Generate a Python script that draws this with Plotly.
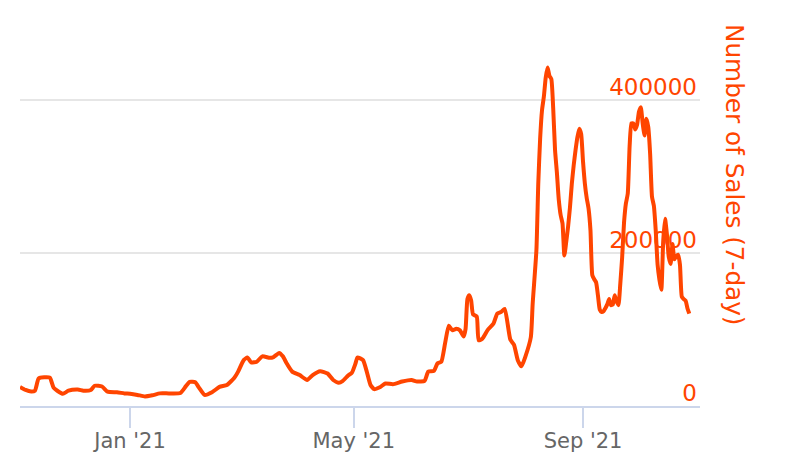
import plotly.graph_objects as go

dates = [
    "2020-11-03", "2020-11-06", "2020-11-09", "2020-11-11", "2020-11-13", "2020-11-16",
    "2020-11-19", "2020-11-21", "2020-11-23", "2020-11-26", "2020-11-29", "2020-12-04",
    "2020-12-07", "2020-12-11", "2020-12-13", "2020-12-17", "2020-12-20", "2020-12-25",
    "2020-12-29", "2021-01-01", "2021-01-05", "2021-01-09", "2021-01-13", "2021-01-17",
    "2021-01-22", "2021-01-28", "2021-01-31", "2021-02-02", "2021-02-05", "2021-02-07",
    "2021-02-10", "2021-02-14", "2021-02-18", "2021-02-22", "2021-02-26", "2021-02-28",
    "2021-03-03", "2021-03-05", "2021-03-07", "2021-03-10", "2021-03-13", "2021-03-17",
    "2021-03-19", "2021-03-22", "2021-03-24", "2021-03-26", "2021-03-29", "2021-04-02",
    "2021-04-06", "2021-04-09", "2021-04-13", "2021-04-17", "2021-04-20", "2021-04-23",
    "2021-04-25", "2021-04-28", "2021-04-30", "2021-05-02", "2021-05-03", "2021-05-06",
    "2021-05-08", "2021-05-10", "2021-05-12", "2021-05-15", "2021-05-18", "2021-05-22",
    "2021-05-27", "2021-06-01", "2021-06-04", "2021-06-08", "2021-06-10", "2021-06-13",
    "2021-06-15", "2021-06-17", "2021-06-19", "2021-06-21", "2021-06-23", "2021-06-25",
    "2021-06-27", "2021-06-29", "2021-06-30", "2021-07-01", "2021-07-02", "2021-07-03",
    "2021-07-04", "2021-07-06", "2021-07-07", "2021-07-09", "2021-07-12", "2021-07-15",
    "2021-07-17", "2021-07-19", "2021-07-21", "2021-07-24", "2021-07-26", "2021-07-28",
    "2021-07-30", "2021-08-01", "2021-08-04", "2021-08-05", "2021-08-07", "2021-08-08",
    "2021-08-09", "2021-08-10", "2021-08-11", "2021-08-12", "2021-08-13", "2021-08-14",
    "2021-08-15", "2021-08-16", "2021-08-17", "2021-08-18", "2021-08-19", "2021-08-20",
    "2021-08-21", "2021-08-22", "2021-08-23", "2021-08-24", "2021-08-25", "2021-08-26",
    "2021-08-27", "2021-08-28", "2021-08-29", "2021-08-30", "2021-08-31", "2021-09-01",
    "2021-09-02", "2021-09-03", "2021-09-04", "2021-09-05", "2021-09-06", "2021-09-07",
    "2021-09-08", "2021-09-09", "2021-09-10", "2021-09-11", "2021-09-12", "2021-09-13",
    "2021-09-14", "2021-09-15", "2021-09-16", "2021-09-17", "2021-09-18", "2021-09-19",
    "2021-09-20", "2021-09-21", "2021-09-22", "2021-09-23", "2021-09-24", "2021-09-25",
    "2021-09-26", "2021-09-27", "2021-09-28", "2021-09-29", "2021-09-30", "2021-10-01",
    "2021-10-02", "2021-10-03", "2021-10-04", "2021-10-05", "2021-10-06", "2021-10-07",
    "2021-10-08", "2021-10-09", "2021-10-10", "2021-10-11", "2021-10-12", "2021-10-13",
    "2021-10-14", "2021-10-15", "2021-10-16", "2021-10-17", "2021-10-18", "2021-10-19",
    "2021-10-20", "2021-10-21", "2021-10-22", "2021-10-23", "2021-10-24", "2021-10-25",
    "2021-10-26", "2021-10-27", "2021-10-28",
]

sales_7day = [
    25000, 21000, 19000, 20000, 36000, 37500,
    37000, 24000, 20000, 16000, 20000, 21500,
    20000, 21000, 26500, 25500, 18700, 18000,
    16500, 16000, 14500, 12500, 14000, 16500,
    16500, 17000, 26000, 31500, 31000, 24000,
    14500, 18000, 25000, 27500, 37000, 45000,
    60000, 63500, 57000, 58000, 65000, 63000,
    64000, 69500, 65000, 56000, 45000, 40500,
    34000, 40500, 45500, 42500, 34000, 30500,
    32500, 40000, 43500, 56000, 63500, 60000,
    45000, 27500, 22000, 24500, 29500, 28500,
    32000, 34000, 32000, 33000, 45000, 46000,
    56000, 58000, 82000, 105000, 99000, 101000,
    99000, 91000, 101000, 140000, 145000, 138000,
    120000, 117000, 86000, 88000, 100000, 108000,
    121000, 123000, 127000, 87000, 80000, 60000,
    52000, 64000, 90000, 134000, 204000, 291000,
    350000, 387000, 405000, 430000, 443000, 432000,
    428000, 390000, 335000, 305000, 270000, 250000,
    239000, 197000, 215000, 235000, 260000, 291000,
    315000, 335000, 352000, 363000, 356000, 320000,
    291000, 272000, 258000, 230000, 171000, 166000,
    162000, 145000, 126000, 123000, 124000, 128000,
    133000, 140000, 132000, 133000, 145000, 137000,
    132000, 160000, 195000, 240000, 265000, 278000,
    340000, 370000, 370000, 362000, 368000, 385000,
    391000, 370000, 354000, 376000, 365000, 330000,
    274000, 262000, 230000, 185000, 165000, 152000,
    215000, 245000, 225000, 195000, 186000, 212000,
    192000, 196000, 198000, 185000, 143000, 140000,
    138000, 128000, 121000,
]

x_tick_dates = ["2021-01-01", "2021-05-01", "2021-09-01"]
x_tick_labels = ["Jan '21", "May '21", "Sep '21"]
y_tick_vals = [0, 200000, 400000]
y_title = "Number of Sales (7-day)"

ORANGE = "#ff4500"
FONT = "DejaVu Sans"

fig = go.Figure()
fig.add_trace(go.Scatter(
    x=dates, y=sales_7day, mode="lines",
    line=dict(color=ORANGE, width=4, shape="spline", smoothing=0.5),
    hoverinfo="skip", showlegend=False,
))

fig.update_layout(
    width=786, height=467,
    margin=dict(l=20, r=86, t=24, b=61, autoexpand=False),
    paper_bgcolor="white", plot_bgcolor="white",
    font=dict(family=FONT),
    showlegend=False,
)

fig.update_xaxes(
    range=["2020-11-03", "2021-11-02 18:00"],
    tickvals=x_tick_dates, ticktext=x_tick_labels,
    showgrid=False, zeroline=False, automargin=False,
    showline=True, linecolor="#ccd6eb", linewidth=2,
    ticks="outside", ticklen=20, tickwidth=2, tickcolor="#ccd6eb",
    ticklabelstandoff=-5,
    tickfont=dict(family=FONT, size=21, color="#666666"),
)

fig.update_yaxes(
    side="right", range=[0, 500000], automargin=False,
    tickvals=y_tick_vals, tickformat="d",
    ticklabelposition="inside top", ticklabelstandoff=0, ticklabelshift=3,
    showgrid=True, gridcolor="#e6e6e6", gridwidth=2,
    zeroline=False, showline=False, ticks="",
    tickfont=dict(family=FONT, size=23, color=ORANGE),
)

fig.add_annotation(
    text=y_title, xref="paper", yref="paper",
    x=1.0515, y=0.6047, xanchor="center", yanchor="middle",
    textangle=90, showarrow=False,
    font=dict(family=FONT, size=24.7, color=ORANGE),
)

fig.write_html(
    "out.html",
    config={"displayModeBar": False},
    post_script="document.body.style.margin='0';document.body.style.overflow='hidden';",
)
